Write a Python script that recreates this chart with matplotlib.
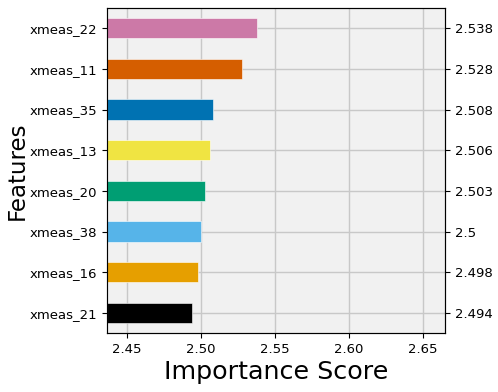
import matplotlib
matplotlib.use("Agg")
import matplotlib.pyplot as plt

# feature importances, bottom to top
features = ["xmeas_21", "xmeas_16", "xmeas_38", "xmeas_20",
            "xmeas_13", "xmeas_35", "xmeas_11", "xmeas_22"]
scores = [2.494, 2.498, 2.5, 2.503, 2.506, 2.508, 2.528, 2.538]
score_labels = ["2.494", "2.498", "2.5", "2.503", "2.506", "2.508", "2.528", "2.538"]
colors = ["#000000", "#E69F00", "#56B4E9", "#009E73",
          "#F0E442", "#0072B2", "#D55E00", "#CC79A7"]

fig, ax = plt.subplots(figsize=(4.98, 3.92), dpi=100)
fig.subplots_adjust(left=0.215, right=0.894, top=0.98, bottom=0.15)

ax.set_facecolor("#f1f1f1")
ax.grid(True, color="#c8c8c8", linewidth=1)
ax.set_axisbelow(True)
ax.barh(features, scores, height=0.5, color=colors, edgecolor="white", linewidth=0.4)
ax.set_xlim(2.4365, 2.665)
ax.set_ylim(-0.5, 7.5)
ax.set_xticks([2.45, 2.50, 2.55, 2.60, 2.65])
ax.set_xlabel("Importance Score", fontsize=18.3, labelpad=3)
ax.set_ylabel("Features", fontsize=16.5, labelpad=0.5)
ax.tick_params(labelsize=9.5)
for s in ax.spines.values():
    s.set_color("#333333")
ax.spines["left"].set_color("#777777")

ax2 = ax.twinx()
ax2.set_ylim(ax.get_ylim())
ax2.set_yticks(range(len(scores)))
ax2.set_yticklabels(score_labels)
ax2.tick_params(labelsize=9.5)

fig.savefig("out.png", dpi=100)
